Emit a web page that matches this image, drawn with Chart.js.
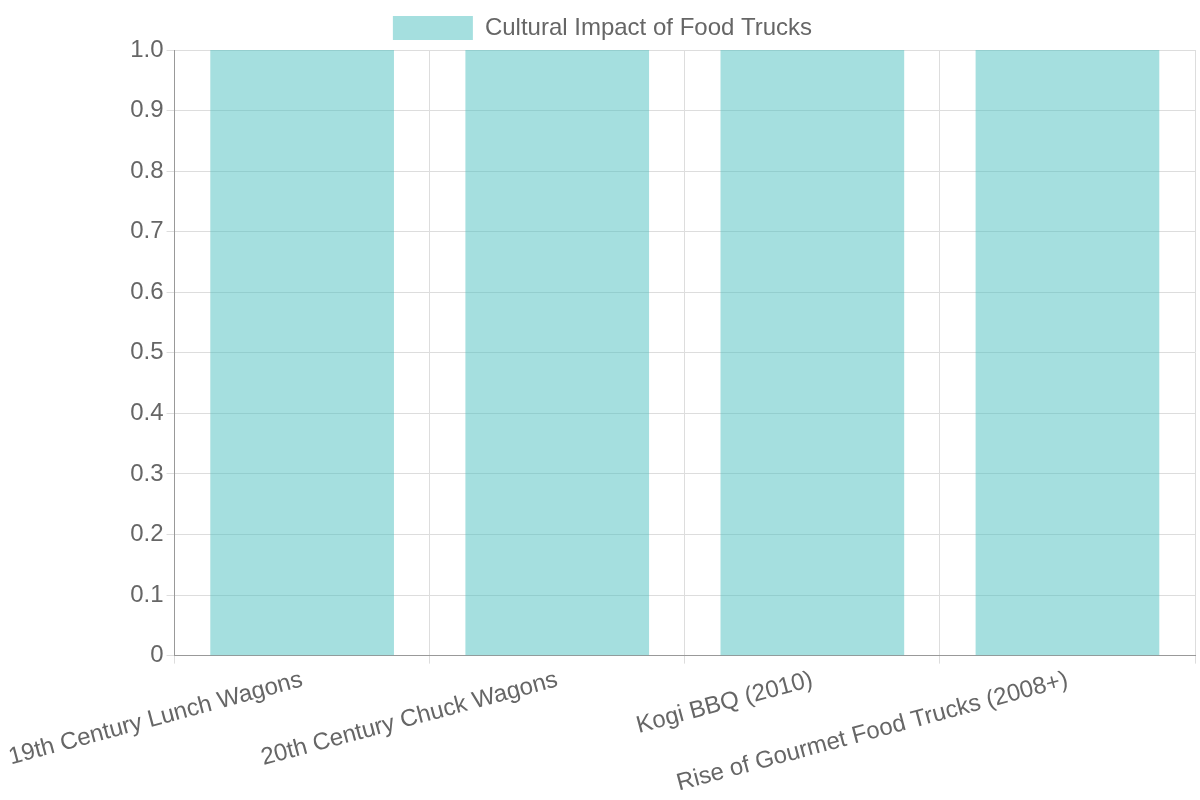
<!DOCTYPE html>
<html>
<head>
<meta charset="utf-8">
<script src="https://cdn.jsdelivr.net/npm/chart.js@4"></script>
<style>
html,body{margin:0;padding:0;background:#fff;}
#wrap{width:1200px;height:800px;}
</style>
</head>
<body>
<div id="wrap"><canvas id="impactChart"></canvas></div>
<script>
// DATA
const labels = [
    '19th Century Lunch Wagons',
    '20th Century Chuck Wagons',
    'Kogi BBQ (2010)',
    'Rise of Gourmet Food Trucks (2008+)'
];

const values = [1, 1, 1, 1];

const seriesName = 'Cultural Impact of Food Trucks';

Chart.defaults.font.family = '"Liberation Sans", Arial, sans-serif';
Chart.defaults.font.size = 24;
Chart.defaults.color = '#666';

new Chart(
    document.getElementById('impactChart'),
    {
        type:'bar',
        data:{
            labels:labels,
            datasets:[{
                label:seriesName,
                data:values,
                backgroundColor:'rgba(75, 192, 192, 0.5)',
                borderWidth:0
            }]
        },
        options:{
            responsive:true,
            maintainAspectRatio:false,
            animation:false,
            layout:{
                padding:{left:10, right:5, top:6}
            },
            plugins:{
                legend:{
                    labels:{boxWidth:80, boxHeight:24}
                }
            },
            scales:{
                x:{
                    grid:{color:'#ddd'},
                    border:{color:'#999'},
                    ticks:{minRotation:15, maxRotation:15, padding:2}
                },
                y:{
                    beginAtZero:true,
                    grid:{color:'#ddd'},
                    border:{color:'#999'}
                }
            }
        }
    });
</script>
</body>
</html>
